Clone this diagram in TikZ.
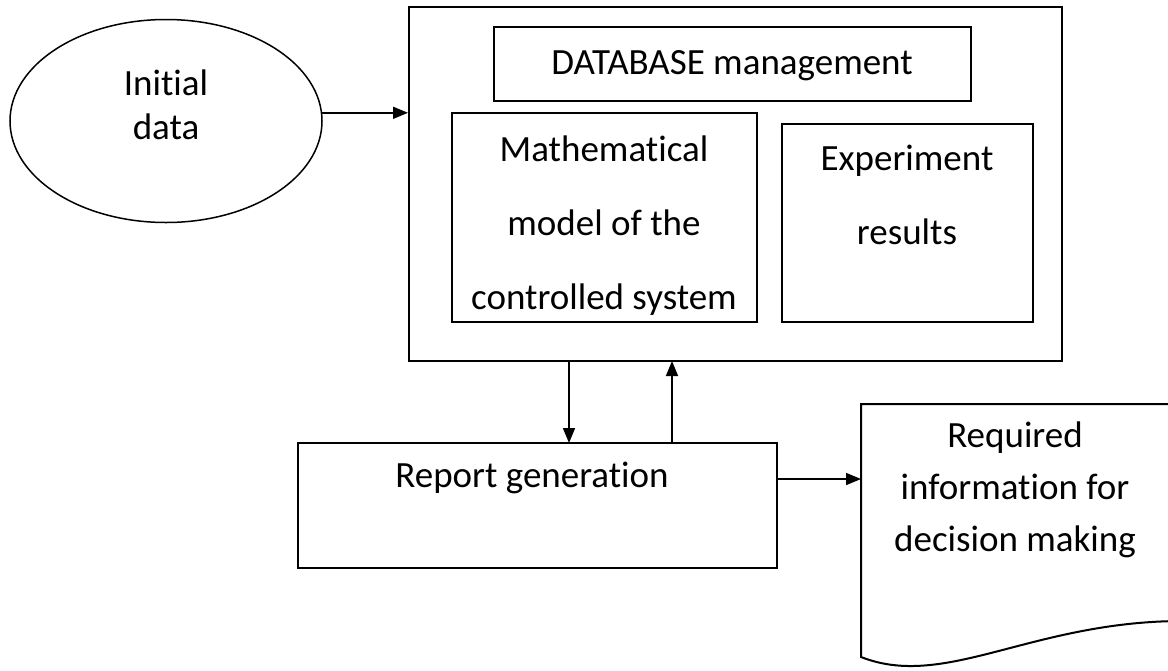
\documentclass[tikz,border=0pt]{standalone}
\usepackage{fontspec}
\setmainfont{Carlito}[Ligatures=NoCommon]
\usetikzlibrary{arrows.meta, shapes.geometric, positioning}
\tikzset{>={Triangle[length=7.5pt,width=6pt]}}
\tikzset{
  box/.style={draw, line width=1pt, rectangle, inner sep=0pt},
  txt/.style={align=center, inner sep=0pt, font=\fontsize{18.5}{22}\selectfont}
}

\begin{document}
\begin{tikzpicture}[x=0.5pt, y=-0.5pt, thick]
      \useasboundingbox (0,0) rectangle (1168,670);

      % boxes
      \node[draw, ellipse, inner sep=0pt, line width=0.75pt, minimum width=156pt, minimum height=101.5pt] (Init) at (166,121) {};
      \node[box, minimum width=326.5pt, minimum height=177pt] (Base) at (735.5,184) {};
      \node[box, minimum width=238.5pt, minimum height=37pt] (DB) at (732.5,64) {};
      \node[box, minimum width=152.5pt, minimum height=104.5pt] (Model) at (604.5,217.5) {};
      \node[box, minimum width=125.5pt, minimum height=99pt] (Exper) at (907.5,223) {};
      \node[box, minimum width=239.5pt, minimum height=62.5pt] (Report) at (537.5,505.5) {};

      % document shape
      \draw[line width=1pt] (1180,404) -- (861,404) -- (861,657)
            .. controls (945,690) and (1030,622) .. (1180,621);
      \coordinate (Doc) at (861,479);

      % texts
      \node[txt] (InitT) at (166,105) {Initial\\data};
      \node[txt] (DBT) at (732,66) {DATABASE management};
      \node[txt, font=\fontsize{18.5}{37}\selectfont] (ModelT) at (604,226) {Mathematical\\model of the\\controlled system};
      \node[txt, font=\fontsize{18.5}{37}\selectfont] (ExperT) at (907,195) {Experiment\\results};
      \node[txt] (ReportT) at (532,478) {Report generation};
      \node[txt, font=\fontsize{18.5}{26}\selectfont] (DocT) at (1015,490) {Required\\information for\\decision making};

      % connectors
      \coordinate (Dn) at (569,443);
      \coordinate (Up) at (672,361);
      \draw[->] (Init.3) -- (Init.3 -| Base.west);
      \draw[->] (Dn |- Base.south) -- (Dn);
      \draw[->] (Up |- Report.north) -- (Up);
      \draw[->] (Report.east |- Doc) -- (Doc);
\end{tikzpicture}
\end{document}
